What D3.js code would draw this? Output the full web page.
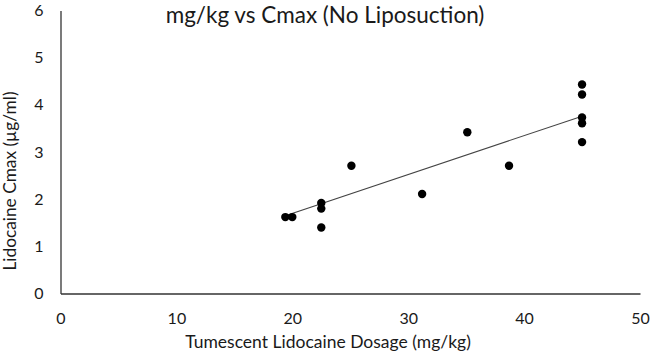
<!DOCTYPE html>
<html><head><meta charset="utf-8">
<script src="https://cdn.jsdelivr.net/npm/d3@7"></script>
<style>body{margin:0;background:#fff;} svg{display:block;} text{font-family:Lato, "Open Sans", sans-serif; fill:#1a1a1a;}</style>
</head><body><svg id="c" width="651" height="356"></svg>
<script>
const dosage = [19.4, 20.0, 22.5, 22.5, 22.5, 25.1, 31.2, 35.1, 38.7, 45.0, 45.0, 45.0, 45.0, 45.0];
const cmax   = [1.62, 1.62, 1.92, 1.80, 1.40, 2.71, 2.11, 3.42, 2.71, 4.43, 4.22, 3.73, 3.61, 3.21];
const trendX = [19.4, 45.0];
const trendY = [1.65, 3.76];
const xTicks = [0, 10, 20, 30, 40, 50];
const yTicks = [0, 1, 2, 3, 4, 5, 6];
const title = "mg/kg vs Cmax (No Liposuction)";
const xLabel = "Tumescent Lidocaine Dosage (mg/kg)";
const yLabel = "Lidocaine Cmax (µg/ml)";

const svg = d3.select("#c");
const x = d3.scaleLinear().domain([0, 50]).range([60.5, 640]);
const y = d3.scaleLinear().domain([0, 6]).range([293.5, 10.5]);

const xAxis = d3.axisBottom(x).tickValues(xTicks).tickFormat(d3.format("d")).tickSize(0).tickPadding(19);
const yAxis = d3.axisLeft(y).tickValues(yTicks).tickFormat(d3.format("d")).tickSize(0).tickPadding(17);

const gx = svg.append("g").attr("transform", `translate(0,${y(0)})`).call(xAxis);
const gy = svg.append("g").attr("transform", `translate(${x(0)},0)`).call(yAxis);
[gx, gy].forEach(g => {
  g.select(".domain").attr("stroke", "#333").attr("stroke-width", 1.3);
  g.selectAll("text").style("font-size", "16px").style("font-family", "Lato").attr("fill", "#1a1a1a");
});

svg.append("line")
  .attr("x1", x(trendX[0])).attr("y1", y(trendY[0]))
  .attr("x2", x(trendX[1])).attr("y2", y(trendY[1]))
  .attr("stroke", "#444").attr("stroke-width", 1.1);

svg.append("g").selectAll("circle")
  .data(dosage.map((d, i) => [d, cmax[i]]))
  .join("circle")
  .attr("cx", d => x(d[0])).attr("cy", d => y(d[1]))
  .attr("r", 4.2).attr("fill", "#000");

svg.append("text").attr("x", 325).attr("y", 23).attr("text-anchor", "middle")
  .style("font-size", "22.5px").text(title);
svg.append("text").attr("x", 328).attr("y", 348).attr("text-anchor", "middle")
  .style("font-size", "17.5px").text(xLabel);
svg.append("text").attr("transform", "translate(16,181) rotate(-90)").attr("text-anchor", "middle")
  .style("font-size", "17.3px").text(yLabel);
</script></body></html>
